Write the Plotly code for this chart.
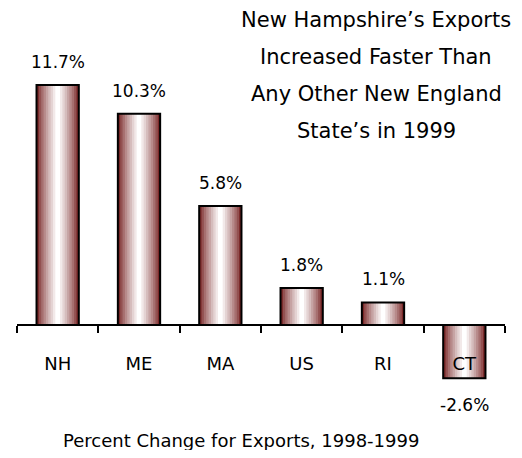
import plotly.graph_objects as go

states = ["NH", "ME", "MA", "US", "RI", "CT"]
pct_change = [11.7, 10.3, 5.8, 1.8, 1.1, -2.6]
value_labels = ["11.7%", "10.3%", "5.8%", "1.8%", "1.1%", "-2.6%"]
title_lines = ["New Hampshire\u2019s Exports", "Increased Faster Than",
               "Any Other New England", "State\u2019s in 1999"]
x_caption = "Percent Change for Exports, 1998-1999"

FONT = "DejaVu Sans"
OFF = 8  # page body margin
W, H = 522 - 2 * OFF, 458 - 2 * OFF
m_l, m_r, m_t, m_b = 17 - OFF, W - (505 - OFF), 40 - OFF, H - (400 - OFF)
ymin, ymax = -3.66, 13.9
bar_w = 0.52
PW, PH = W - m_l - m_r, H - m_t - m_b


def px_x(p):
    return (p - OFF - m_l) / PW


def px_y(p):
    return (H - m_b - (p - OFF)) / PH


edge = (122, 40, 40)
n_layers = 9
fig = go.Figure()
for i in range(n_layers):
    f = (i / (n_layers - 1)) ** 0.8
    c = tuple(int(round(e + (255 - e) * f)) for e in edge)
    fig.add_trace(go.Bar(
        x=states, y=pct_change,
        width=bar_w * (1 - i / n_layers),
        marker=dict(color="rgb(%d,%d,%d)" % c, line=dict(width=0)),
        hoverinfo="skip", showlegend=False))
fig.add_trace(go.Bar(
    x=states, y=pct_change, width=bar_w,
    marker=dict(color="rgba(0,0,0,0)", line=dict(color="black", width=2)),
    hoverinfo="skip", showlegend=False))

for s, v, t in zip(states, pct_change, value_labels):
    fig.add_annotation(x=s, y=v, text=t, showarrow=False,
                       yshift=23 if v >= 0 else -27,
                       font=dict(family=FONT, size=17, color="black"))

line_y = [20, 57, 94, 131]
for t, py in zip(title_lines, line_y):
    fig.add_annotation(xref="paper", yref="paper", x=px_x(376), y=px_y(py),
                       text=t, showarrow=False, xanchor="center", yanchor="middle",
                       font=dict(family=FONT, size=21, color="black"))

fig.add_annotation(xref="paper", yref="paper", x=px_x(241), y=px_y(440),
                   text=x_caption, showarrow=False, xanchor="center", yanchor="middle",
                   font=dict(family=FONT, size=18, color="black"))

zero_pos = (0 - ymin) / (ymax - ymin)
fig.update_layout(
    width=W, height=H, barmode="overlay",
    margin=dict(l=m_l, r=m_r, t=m_t, b=m_b),
    paper_bgcolor="white", plot_bgcolor="white",
    font=dict(family=FONT, color="black"),
    xaxis=dict(anchor="free", position=zero_pos, showline=True, linecolor="black",
               linewidth=2, ticks="outside", tickson="boundaries", ticklen=7,
               tickwidth=2, tickcolor="black", ticklabelstandoff=22,
               tickfont=dict(family=FONT, size=18, color="black"),
               showgrid=False, zeroline=False, fixedrange=True),
    yaxis=dict(range=[ymin, ymax], visible=False, showgrid=False, zeroline=False,
               fixedrange=True),
)
fig.write_html("out.html")
